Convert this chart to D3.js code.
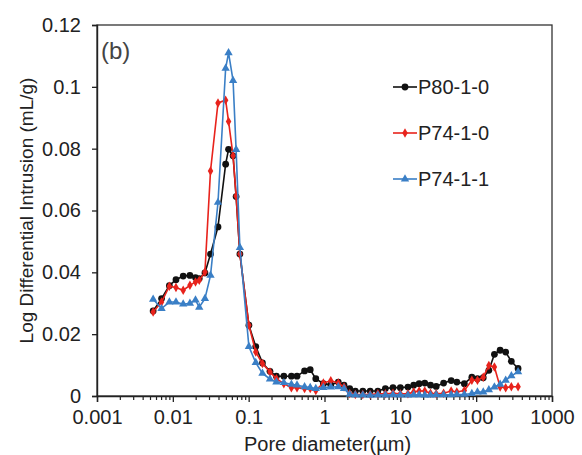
<!DOCTYPE html>
<html>
<head>
<meta charset="utf-8">
<script src="https://cdn.jsdelivr.net/npm/d3@7/dist/d3.min.js"></script>
<style>
  html, body { margin: 0; padding: 0; background: #fff; }
  svg { display: block; font-family: "Liberation Sans", Arial, sans-serif; }
</style>
</head>
<body>
<svg id="chart" width="582" height="455"></svg>
<script>
// Pore diameters (µm)
const diameters = [0.0055,0.0071,0.0090,0.0110,0.0137,0.0168,0.0199,0.0223,0.0265,0.0314,
  0.0394,0.0497,0.0543,0.0623,0.0683,0.0766,0.1007,0.124,0.152,0.191,
  0.232,0.291,0.366,0.434,0.546,0.648,0.768,0.966,1.21,1.52,
  1.81,2.15,2.55,3.2,4.0,5.05,6.35,8.0,10.0,12.6,
  15.0,17.7,21.0,25.0,29.7,37.2,46.8,55.6,69.8,87.7,
  104,124,147,174,207,245,291,357];

const p80_1_0 = [0.0275,0.0315,0.0357,0.0376,0.0388,0.0390,0.0383,0.0380,0.0398,0.0459,
  0.0547,0.0750,0.0798,0.0777,0.0645,0.0459,0.0229,0.0160,0.0107,0.0080,
  0.0064,0.0064,0.0064,0.0064,0.0081,0.0085,0.0056,0.0040,0.0036,0.0045,
  0.0035,0.0024,0.0016,0.0016,0.0016,0.0016,0.0024,0.0027,0.0027,0.0029,
  0.0035,0.0040,0.0042,0.0035,0.0031,0.0042,0.0050,0.0045,0.0040,0.0061,
  0.0056,0.0059,0.0083,0.0135,0.0148,0.0142,0.0112,0.0089];

const p74_1_0 = [0.0272,0.0304,0.0355,0.0351,0.0342,0.0358,0.0369,0.0374,0.0401,0.0728,
  0.0948,0.0957,0.0888,0.0777,0.0647,0.0459,0.0229,0.0142,0.0105,0.0078,
  0.0056,0.0040,0.0027,0.0027,0.0024,0.0024,0.0018,0.0042,0.0049,0.0042,
  0.0029,0.0008,0.0005,0.0005,0.0005,0.0007,0.0007,0.0009,0.0007,0.0007,
  0.0013,0.0016,0.0016,0.0009,0.0007,0.0009,0.0016,0.0013,0.0018,0.0051,
  0.0051,0.0061,0.0099,0.0094,0.0029,0.0027,0.0030,0.0030];

const p74_1_1 = [0.0313,0.0283,0.0304,0.0304,0.0297,0.0300,0.0310,0.0287,0.0315,0.0390,
  0.0626,0.1060,0.1110,0.1020,0.0797,0.0480,0.0160,0.0108,0.0073,0.0055,
  0.0045,0.0043,0.0038,0.0035,0.0030,0.0027,0.0024,0.0027,0.0029,0.0030,
  0.0024,0.0005,0.0003,0.0003,0.0002,0.0003,0.0003,0.0004,0.0003,0.0003,
  0.0004,0.0004,0.0003,0.0003,0.0004,0.0004,0.0004,0.0005,0.0005,0.0008,
  0.0013,0.0013,0.0020,0.0029,0.0038,0.0051,0.0065,0.0078];

const seriesNames = ["P80-1-0", "P74-1-0", "P74-1-1"];
const xTickValues = [0.001, 0.01, 0.1, 1, 10, 100, 1000];
const xTickLabels = ["0.001", "0.01", "0.1", "1", "10", "100", "1000"];
const yTickValues = [0, 0.02, 0.04, 0.06, 0.08, 0.1, 0.12];
const yTickLabels = ["0", "0.02", "0.04", "0.06", "0.08", "0.1", "0.12"];

const colors = ["#111111", "#e8231c", "#3a7fc6"];
const symbols = [d3.symbolCircle, d3.symbolDiamond, d3.symbolTriangle];
const symSizes = [36, 26, 30];

const svg = d3.select("#chart");
const L = 97, R = 552, T = 25, B = 396;

const x = d3.scaleLog().domain([0.001, 1000]).range([L, R]);
const y = d3.scaleLinear().domain([0, 0.12]).range([B, T]);

// frame
svg.append("rect").attr("x", L).attr("y", T).attr("width", R - L).attr("height", B - T)
  .attr("fill", "none").attr("stroke", "#333").attr("stroke-width", 1.3);

// x axis with minor ticks
const minor = [];
for (let e = -3; e < 3; e++) for (let k = 2; k <= 9; k++) minor.push(k * Math.pow(10, e));
svg.append("g").attr("transform", `translate(0,${B})`)
  .call(d3.axisBottom(x).tickValues(minor).tickSize(4).tickFormat(""))
  .call(g => g.select(".domain").remove())
  .call(g => g.selectAll("line").attr("stroke", "#222").attr("stroke-width", 1.2));
svg.append("g").attr("transform", `translate(0,${B})`)
  .call(d3.axisBottom(x).tickValues(xTickValues).tickSize(6).tickPadding(8)
    .tickFormat((d, i) => xTickLabels[i]))
  .call(g => g.select(".domain").attr("stroke", "#222").attr("stroke-width", 1.4))
  .call(g => g.selectAll("line").attr("stroke", "#222").attr("stroke-width", 1.3))
  .call(g => g.selectAll("text").attr("font-size", 20).attr("fill", "#222")
    .attr("font-family", "Liberation Sans, Arial, sans-serif"));

// y axis
svg.append("g").attr("transform", `translate(${L},0)`)
  .call(d3.axisLeft(y).tickValues(yTickValues).tickSize(5).tickPadding(11)
    .tickFormat((d, i) => yTickLabels[i]))
  .call(g => g.select(".domain").attr("stroke", "#222").attr("stroke-width", 1.4))
  .call(g => g.selectAll("line").attr("stroke", "#222").attr("stroke-width", 1.3))
  .call(g => g.selectAll("text").attr("font-size", 20).attr("fill", "#222")
    .attr("font-family", "Liberation Sans, Arial, sans-serif"));

// axis titles
svg.append("text").attr("x", (L + R) / 2 + 3).attr("y", 451)
  .attr("text-anchor", "middle").attr("font-size", 20).attr("fill", "#222")
  .text("Pore diameter(µm)");
svg.append("text").attr("transform", `translate(33,${(T + B) / 2}) rotate(-90)`)
  .attr("text-anchor", "middle").attr("font-size", 19).attr("fill", "#222")
  .text("Log Differential Intrusion (mL/g)");

// panel label
svg.append("text").attr("x", 101).attr("y", 59).attr("font-size", 24).attr("fill", "#444")
  .text("(b)");

// series
const allSeries = [p80_1_0, p74_1_0, p74_1_1];
const line = d3.line().x(d => x(d[0])).y(d => y(d[1]));
allSeries.forEach((vals, si) => {
  const pts = diameters.map((d, i) => [d, vals[i]]);
  const g = svg.append("g");
  g.append("path").attr("d", line(pts)).attr("fill", "none")
    .attr("stroke", colors[si]).attr("stroke-width", 1.6);
  g.selectAll("path.m").data(pts).enter().append("path").attr("class", "m")
    .attr("transform", d => `translate(${x(d[0])},${y(d[1])})`)
    .attr("d", d3.symbol().type(symbols[si]).size(symSizes[si]))
    .attr("fill", colors[si]);
});

// legend
const legY = [87, 133, 179];
seriesNames.forEach((name, i) => {
  const g = svg.append("g").attr("transform", `translate(0,${legY[i]})`);
  g.append("line").attr("x1", 393).attr("x2", 417).attr("y1", 0).attr("y2", 0)
    .attr("stroke", colors[i]).attr("stroke-width", 1.6);
  g.append("path").attr("transform", "translate(405,0)")
    .attr("d", d3.symbol().type(symbols[i]).size(symSizes[i])).attr("fill", colors[i]);
  g.append("text").attr("x", 418).attr("y", 7).attr("font-size", 20).attr("fill", "#222")
    .text(name);
});
</script>
</body>
</html>
